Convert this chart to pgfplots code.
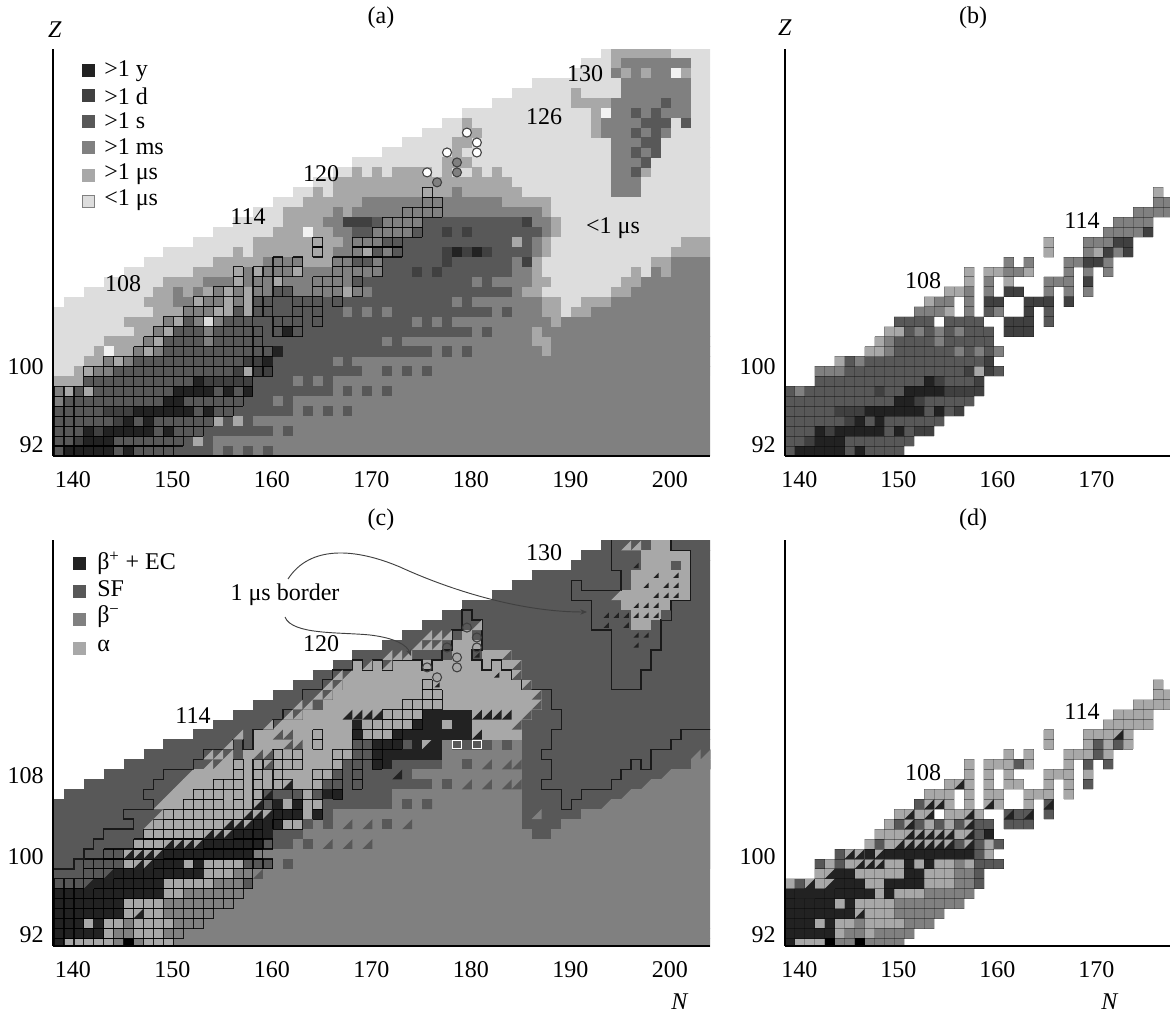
\documentclass[border=0pt]{standalone}
\usepackage{pgfplots}
\usepackage{pgfplotstable}
\pgfplotsset{compat=1.18}
\usepackage{fontspec}
\setmainfont{Liberation Serif}
\usetikzlibrary{arrows.meta}
\definecolor{cB}{gray}{0}
\definecolor{cK}{HTML}{222222}
\definecolor{cD}{HTML}{404040}
\definecolor{cS}{HTML}{585858}
\definecolor{cM}{HTML}{808080}
\definecolor{cU}{HTML}{A8A8A8}
\definecolor{cL}{HTML}{DDDDDD}
\definecolor{cW}{HTML}{F2F2F2}
\pgfdeclareplotmark{lrt}{\pgfpathmoveto{\pgfqpoint{-\pgfplotmarksize}{-\pgfplotmarksize}}\pgfpathlineto{\pgfqpoint{\pgfplotmarksize}{-\pgfplotmarksize}}\pgfpathlineto{\pgfqpoint{\pgfplotmarksize}{\pgfplotmarksize}}\pgfpathclose\pgfusepathqfill}
% r = row (Z-91), a..b = first and last column (N-138) of a run of cells
\pgfplotstableread[row sep=\\]{r a b\\0 0 11\\1 0 12\\2 0 14\\3 0 15\\4 0 17\\5 0 18\\6 0 19\\7 3 19\\8 3 21\\9 5 20\\10 8 21\\11 9 20\\12 10 20\\12 22 24\\13 11 14\\13 16 19\\13 22 24\\13 26 26\\14 13 16\\14 18 18\\14 20 21\\14 24 24\\14 26 26\\15 14 16\\15 18 18\\15 20 21\\15 24 26\\15 28 28\\16 16 18\\16 20 20\\16 22 23\\16 26 26\\16 28 28\\16 30 30\\17 18 18\\17 20 20\\17 22 22\\17 26 28\\17 30 30\\18 18 18\\18 20 24\\18 28 28\\18 30 30\\18 32 32\\19 22 22\\19 24 24\\19 28 32\\20 26 26\\20 30 34\\21 26 26\\21 30 34\\22 32 36\\23 33 36\\24 35 38\\25 37 38\\26 37 37\\}\known
\pgfplotstableread[row sep=\\]{r a b\\8 0 65\\9 0 65\\10 0 65\\11 0 65\\12 0 65\\13 0 65\\14 0 65\\15 1 65\\16 3 65\\17 5 65\\18 7 65\\19 9 65\\20 11 65\\21 14 65\\22 16 65\\23 18 65\\24 20 65\\25 22 65\\26 24 65\\27 26 65\\28 28 65\\29 30 65\\30 33 65\\31 35 65\\32 37 65\\33 39 65\\34 41 65\\35 44 65\\36 46 65\\37 48 65\\38 52 65\\39 53 65\\40 55 65\\}\outerset
% panel a
\pgfplotstableread[row sep=\\]{r a b\\1 14 14\\3 16 16\\3 18 18\\7 0 2\\8 2 3\\9 3 4\\10 4 4\\10 6 8\\11 5 9\\12 8 10\\13 7 11\\14 10 50\\14 52 53\\15 9 50\\15 53 55\\16 10 48\\16 56 57\\17 11 49\\17 57 58\\18 14 48\\18 58 58\\18 61 61\\19 16 48\\19 60 61\\20 18 18\\20 20 49\\20 62 65\\21 20 49\\21 63 65\\22 22 50\\23 23 50\\24 23 49\\25 25 49\\26 26 26\\26 28 46\\27 28 45\\28 30 30\\28 32 32\\28 34 37\\28 39 39\\28 42 42\\28 44 44\\29 39 41\\30 40 40\\31 40 41\\32 41 42\\33 41 41\\13 50 50\\12 48 48\\11 48 49\\10 49 49\\40 56 61\\39 56 56\\36 52 52\\35 52 55\\34 54 54\\33 54 54\\32 54 54\\}\aU
\pgfplotstableread[row sep=\\]{r a b\\0 16 65\\1 16 65\\2 22 65\\3 20 65\\4 24 65\\5 24 65\\5 22 22\\6 28 65\\7 28 65\\7 24 24\\7 26 26\\8 31 65\\9 31 65\\9 28 28\\9 30 30\\10 38 48\\10 50 65\\11 36 47\\11 50 65\\11 33 33\\11 35 35\\12 42 47\\12 49 65\\13 36 36\\13 38 38\\13 40 49\\13 51 65\\14 29 29\\14 31 31\\14 33 33\\14 44 48\\14 54 65\\15 40 40\\15 42 48\\15 56 65\\16 21 21\\16 24 25\\16 27 27\\16 31 31\\16 46 46\\16 58 65\\17 19 19\\17 21 21\\17 23 25\\17 29 29\\17 42 42\\17 44 47\\17 59 65\\18 19 19\\18 25 27\\18 29 29\\18 31 31\\18 46 47\\18 60 60\\18 62 65\\19 21 21\\19 23 23\\19 46 46\\19 62 65\\20 28 29\\21 29 29\\20 48 48\\21 48 48\\22 28 29\\22 49 49\\23 48 49\\24 39 48\\25 31 44\\26 40 40\\15 12 13\\16 12 12\\16 14 14\\17 15 17\\23 27 28\\24 28 28\\24 30 38\\39 57 63\\38 56 56\\38 58 58\\38 60 61\\37 57 63\\36 57 63\\35 56 63\\34 56 63\\33 55 58\\32 55 57\\32 59 59\\32 61 61\\31 56 58\\30 56 57\\30 59 59\\29 56 58\\28 56 57\\27 56 58\\26 56 58\\}\aM
\pgfplotstableread[row sep=\\]{r a b\\38 57 57\\38 59 59\\38 63 63\\28 59 59\\}\aUb
\pgfplotstableread[row sep=\\]{r a b\\0 12 15\\0 17 17\\0 19 19\\0 21 21\\1 13 13\\1 15 15\\2 15 21\\2 23 23\\3 17 17\\3 19 19\\4 18 23\\4 25 25\\4 27 27\\4 29 29\\5 19 21\\5 23 23\\6 20 27\\6 29 29\\6 31 31\\6 33 33\\7 20 23\\7 25 25\\7 27 27\\8 22 30\\8 33 33\\8 35 35\\8 37 37\\9 21 27\\9 29 29\\10 22 37\\10 39 39\\10 41 41\\11 21 32\\11 34 34\\12 21 41\\12 43 43\\13 20 35\\13 37 37\\13 39 39\\14 22 23\\14 25 28\\14 30 30\\14 32 32\\14 34 43\\14 45 45\\15 22 23\\15 27 27\\15 29 39\\15 41 41\\16 32 45\\17 31 41\\17 43 43\\18 33 45\\19 33 45\\20 30 47\\21 31 45\\21 47 47\\22 30 48\\23 29 46\\35 61 61\\34 58 58\\34 60 60\\33 59 61\\33 63 63\\32 58 58\\32 60 60\\31 59 60\\30 58 58\\30 60 60\\29 59 59\\28 58 58\\}\aS
\pgfplotstableread[row sep=\\]{r a b\\18 36 36\\18 38 38\\19 39 39\\19 47 47\\20 39 39\\20 41 41\\20 43 43\\22 39 39\\22 41 41\\23 47 47\\1 2 2\\2 4 4\\3 6 6\\4 5 7\\7 15 19\\8 18 21\\9 19 20\\23 29 31\\}\aD
\pgfplotstableread[row sep=\\]{r a b\\0 1 5\\0 7 7\\1 3 5\\2 3 3\\2 5 9\\2 11 11\\3 7 7\\3 9 9\\4 8 13\\4 15 15\\5 11 12\\6 12 15\\6 17 17\\6 19 19\\7 14 14\\9 21 21\\10 22 22\\12 23 23\\20 40 40\\20 42 42\\}\aK
\pgfplotstableread[row sep=\\]{r a b\\5 0 0\\6 0 0\\8 4 5\\9 5 5\\9 7 7\\10 8 8\\10 10 10\\11 9 9\\11 15 15\\12 10 10\\12 15 15\\13 11 11\\13 14 14\\13 16 16\\14 13 15\\15 15 16\\15 18 18\\16 16 16\\16 18 18\\16 20 20\\16 26 26\\16 28 28\\16 30 30\\17 20 20\\17 26 28\\18 21 23\\18 28 28\\18 30 30\\18 32 32\\19 22 22\\19 24 24\\19 28 29\\19 32 32\\20 30 30\\20 33 33\\21 30 32\\22 32 35\\23 33 36\\24 35 38\\25 37 38\\}\aGM
\pgfplotstableread[row sep=\\]{r a b\\6 1 1\\6 3 3\\8 3 3\\8 19 19\\9 6 6\\10 9 9\\11 10 10\\12 11 11\\13 12 12\\14 16 16\\15 14 14\\16 17 17\\17 18 18\\17 22 22\\18 18 18\\18 20 20\\18 24 24\\20 26 26\\20 31 31\\21 26 26\\26 37 37\\}\aGU
\pgfplotstableread[row sep=\\]{r a b\\10 5 5\\22 25 25\\34 55 55\\38 62 62\\}\aW
% panel b
\pgfplotstableread[row sep=\\]{r a b\\0 1 5\\0 7 7\\1 3 5\\2 3 3\\2 5 9\\2 11 11\\3 7 7\\3 9 9\\4 8 13\\4 15 15\\5 11 12\\6 12 15\\7 14 14\\}\bK
\pgfplotstableread[row sep=\\]{r a b\\1 2 2\\2 4 4\\2 13 14\\3 6 6\\4 5 7\\4 17 17\\5 13 13\\6 9 9\\6 16 19\\7 15 15\\7 19 19\\8 18 18\\8 20 20\\9 20 20\\12 22 24\\13 22 24\\14 24 24\\15 20 21\\15 24 26\\15 28 28\\16 22 23\\17 30 30\\19 30 31\\20 32 32\\20 34 34\\21 33 34\\22 36 36\\}\bD
\pgfplotstableread[row sep=\\]{r a b\\6 1 1\\8 3 5\\9 7 7\\10 10 10\\10 17 17\\10 19 19\\10 21 21\\11 10 10\\11 15 15\\12 13 13\\12 15 15\\12 17 17\\14 13 15\\14 18 18\\14 21 21\\15 15 16\\15 18 18\\16 18 18\\16 20 20\\16 26 26\\16 28 28\\16 30 30\\17 20 20\\17 26 28\\18 22 23\\18 28 28\\18 30 30\\18 32 32\\19 22 22\\19 24 24\\19 28 29\\19 32 32\\20 30 30\\20 33 33\\21 30 32\\22 32 35\\23 33 36\\24 35 38\\25 37 38\\}\bM
\pgfplotstableread[row sep=\\]{r a b\\8 19 19\\9 5 5\\10 8 9\\11 9 9\\12 10 11\\14 16 16\\15 14 14\\16 16 17\\17 18 18\\17 22 22\\18 18 18\\18 20 21\\18 24 24\\20 26 26\\20 31 31\\21 26 26\\26 37 37\\}\bU
% panel c
\pgfplotstableread[row sep=\\]{r a b\\7 0 2\\}\cSl
\pgfplotstableread[row sep=\\]{r a b\\0 6 6\\0 8 8\\0 12 65\\1 6 7\\1 11 65\\2 7 7\\2 12 65\\3 11 65\\4 11 65\\5 13 65\\6 16 18\\6 20 65\\7 18 65\\8 22 65\\9 20 65\\10 22 65\\11 25 47\\11 50 65\\12 26 46\\12 51 65\\13 28 46\\13 53 65\\14 34 46\\14 56 65\\15 34 46\\15 58 65\\16 38 46\\16 60 65\\17 36 46\\17 62 65\\18 39 46\\18 64 65\\19 39 46\\20 39 46\\}\cMr
\pgfplotstableread[row sep=\\]{r a b\\10 25 25\\10 22 23\\8 23 23\\12 27 27\\13 27 27\\12 33 33\\14 35 35\\14 37 37\\16 39 39\\18 41 41\\20 35 35\\20 40 43\\20 45 45\\}\cSc
\pgfplotstableread[row sep=\\]{r a b\\0 1 5\\0 9 11\\1 5 5\\1 8 10\\2 3 3\\2 5 6\\2 8 11\\3 7 10\\4 7 10\\5 11 12\\6 11 15\\7 15 17\\8 7 9\\8 13 13\\8 15 18\\9 7 10\\10 8 14\\10 13 17\\11 9 18\\12 10 19\\12 21 24\\13 11 21\\13 25 25\\14 11 20\\14 23 23\\14 25 26\\15 12 20\\15 25 25\\16 13 26\\17 14 27\\18 17 28\\19 19 29\\20 20 29\\20 37 37\\21 20 29\\21 31 33\\21 42 46\\22 23 29\\22 31 35\\22 39 39\\22 42 46\\23 25 47\\24 27 48\\25 28 48\\26 29 47\\27 30 46\\28 30 30\\28 32 32\\28 34 46\\29 40 41\\29 43 45\\30 40 42\\31 41 41\\40 60 61\\39 59 63\\38 59 61\\38 63 63\\37 58 63\\36 58 63\\35 57 63\\34 57 61\\33 58 60\\32 58 59\\}\cUr
\pgfplotstableread[row sep=\\]{r a b\\0 0 0\\1 0 4\\2 0 2\\2 4 4\\3 0 6\\4 0 6\\5 0 10\\6 4 10\\7 6 14\\8 10 12\\8 14 14\\9 11 19\\10 15 20\\11 18 21\\12 20 22\\13 22 24\\13 26 26\\14 22 22\\14 24 24\\15 27 28\\18 32 33\\19 32 38\\20 32 34\\20 36 36\\20 38 38\\21 30 30\\21 34 41\\22 30 30\\22 36 38\\22 40 41\\23 37 41\\}\cKr
\pgfplotstableread[row sep=\\]{r a b\\0 7 7\\}\cBl
\pgfplotstableread[row sep=\\]{r a\\23 29\\23 30\\23 31\\23 32\\23 42\\23 43\\23 44\\23 45\\21 42\\20 37\\8 8\\8 9\\9 7\\9 8\\9 9\\9 10\\10 11\\10 12\\10 13\\10 14\\11 15\\11 16\\11 17\\12 17\\12 18\\12 19\\13 19\\13 20\\13 21\\14 20\\15 21\\16 23\\17 34\\7 5\\6 3\\3 8\\}\cTK
\pgfplotstableread[row sep=\\]{r a\\27 28\\27 29\\28 31\\28 33\\26 27\\26 28\\25 26\\25 27\\24 24\\24 25\\23 23\\23 24\\22 21\\22 22\\21 18\\20 17\\19 15\\19 16\\19 17\\18 15\\18 16\\17 13\\16 12\\29 33\\29 34\\29 35\\30 36\\30 37\\30 38\\31 37\\31 38\\31 39\\32 42\\35 56\\40 57\\40 58\\15 11\\14 10\\13 10\\12 9\\}\cTU
\pgfplotstableread[row sep=\\]{r a\\29 45\\28 46\\27 46\\26 47\\25 48\\24 48\\23 47\\22 46\\16 41\\16 43\\16 45\\16 46\\18 43\\18 45\\18 46\\14 37\\12 35\\12 29\\12 31\\10 27\\10 29\\10 31\\7 20\\20 42\\33 61\\21 22\\21 23\\20 23\\20 24\\19 20\\19 21\\18 21\\}\cTS
\pgfplotstableread[row sep=\\]{r a\\14 46\\13 46\\13 48\\19 64\\19 65\\18 65\\17 61\\16 59\\15 57\\14 55\\}\cTM
\pgfplotstableread[row sep=\\]{r a\\38 58\\37 60\\37 62\\36 59\\36 61\\36 62\\35 60\\35 61\\35 62\\34 58\\34 59\\34 60\\33 58\\33 59\\33 60\\32 55\\32 57\\31 58\\31 59\\30 58\\33 55\\33 56\\33 57\\27 44\\29 42\\26 38\\}\cTs
\pgfplotstableread[row sep=\\]{r a\\20 40\\20 42\\}\cWb
\pgfplotstableread[row sep=\\]{r a\\32 41\\31 42\\30 42\\30 39\\28 37\\}\circW
\pgfplotstableread[row sep=\\]{r a\\29 40\\28 40\\27 38\\}\circG
% panel d
\pgfplotstableread[row sep=\\]{r a b\\0 5 6\\0 8 11\\1 6 7\\1 9 12\\2 7 7\\2 12 14\\3 11 15\\4 11 17\\5 14 18\\6 17 18\\7 17 18\\8 17 17\\}\dM
\pgfplotstableread[row sep=\\]{r a b\\6 1 1\\6 19 19\\7 19 19\\8 3 3\\8 5 5\\8 19 21\\9 5 5\\9 19 19\\10 9 9\\10 17 17\\10 19 19\\10 21 21\\11 19 19\\12 11 11\\12 13 13\\12 15 15\\12 17 17\\12 19 20\\12 22 24\\13 22 24\\13 26 26\\14 13 13\\14 26 26\\16 30 30\\18 23 23\\18 30 30\\18 32 32\\19 31 31\\20 31 31\\20 33 33\\}\dS
\pgfplotstableread[row sep=\\]{r a b\\0 0 0\\1 0 4\\2 0 2\\2 4 4\\3 0 6\\4 0 4\\4 6 6\\5 0 8\\5 10 10\\6 5 7\\6 10 13\\7 5 6\\7 12 13\\8 12 12\\8 14 14\\9 8 8\\9 10 18\\11 20 20\\}\dK
\pgfplotstableread[row sep=\\]{r a b\\0 4 4\\0 7 7\\}\dB
\pgfplotstableread[row sep=\\]{r a\\5 1\\5 2\\6 2\\6 4\\7 4\\8 7\\8 8\\8 9\\9 6\\9 7\\9 9\\10 11\\10 12\\10 13\\10 14\\10 15\\10 16\\10 18\\11 12\\11 13\\11 14\\11 15\\11 16\\11 18\\12 12\\12 18\\13 12\\13 14\\13 18\\14 14\\14 15\\16 17\\14 20\\14 26\\21 33\\13 22\\13 24\\3 7\\}\dT
% the 1 microsecond border
\pgfplotstableread[row sep=\\]{k e\\-1 8\\2 8\\2 9\\3 9\\3 10\\4 10\\4 11\\5 11\\5 12\\8 12\\8 13\\7 13\\7 14\\10 14\\10 15\\9 15\\9 16\\10 16\\10 17\\11 17\\11 18\\14 18\\14 19\\15 19\\15 20\\18 20\\18 21\\19 21\\19 20\\20 20\\20 22\\22 22\\22 23\\23 23\\23 24\\25 24\\25 26\\27 26\\27 27\\28 27\\28 28\\30 28\\30 29\\31 29\\31 28\\32 28\\32 29\\33 29\\33 28\\34 28\\34 29\\37 29\\37 28\\38 28\\38 29\\39 29\\39 30\\40 30\\40 32\\41 32\\41 34\\42 34\\42 33\\43 33\\43 30\\42 30\\42 29\\43 29\\43 28\\44 28\\44 29\\45 29\\45 28\\46 28\\46 27\\47 27\\47 26\\50 26\\50 24\\51 24\\51 22\\50 22\\50 20\\49 20\\49 19\\50 19\\50 17\\49 17\\49 16\\51 16\\51 14\\52 14\\52 15\\53 15\\53 16\\56 16\\56 17\\57 17\\57 18\\58 18\\58 19\\59 19\\59 18\\60 18\\60 20\\62 20\\62 21\\63 21\\63 22\\67 22\\}\bordA
\pgfplotstableread[row sep=\\]{k e\\56 42\\56 38\\57 38\\57 36\\53 36\\53 37\\52 37\\52 35\\54 35\\54 32\\56 32\\56 26\\59 26\\59 28\\60 28\\60 30\\61 30\\61 33\\62 33\\62 35\\64 35\\64 40\\62 40\\62 42\\}\bordB
\newcommand\cellpt{7.4625pt}
\newcommand\runs[2]{\addplot[draw=none,mark=none,forget plot,error bars/x dir=plus,error bars/x explicit,error bars/error mark=none,error bars/error bar style={line width=7.62pt,color=#1,solid}] table[x=a,y expr=\thisrow{r}+0.5,x error expr=\thisrow{b}-\thisrow{a}+1] {#2};}
\newcommand\tris[3]{\addplot[only marks,forget plot,mark=lrt,mark size=#2,mark options={fill=#1,draw=none}] table[x expr=\thisrow{a}+0.5,y expr=\thisrow{r}+0.5] {#3};}
\newcommand\cellgrid[2]{%
\addplot[draw=none,mark=none,forget plot,error bars/x dir=plus,error bars/x explicit,error bars/error mark=none,error bars/error bar style={line width=#2,color=black,opacity=#1,solid}] table[x=a,y expr=\thisrow{r},x error expr=\thisrow{b}-\thisrow{a}+1] {\known};
\addplot[draw=none,mark=none,forget plot,error bars/x dir=plus,error bars/x explicit,error bars/error mark=none,error bars/error bar style={line width=#2,color=black,opacity=#1,solid}] table[x=a,y expr=\thisrow{r}+1,x error expr=\thisrow{b}-\thisrow{a}+1] {\known};
\addplot[draw=none,mark=none,forget plot,error bars/x dir=plus,error bars/x explicit,error bars/error mark=none,error bars/error bar style={line width=\cellpt,color=black,opacity=#1,dash pattern=on #2 off \dimexpr7.4625pt-#2\relax}] table[x expr=\thisrow{a}-0.05,y expr=\thisrow{r}+0.5,x error expr=\thisrow{b}-\thisrow{a}+1.1] {\known};}
\newcommand\fs{\fontsize{18}{18}\selectfont}
\newcommand\lab[3]{\node[font=\fs,inner sep=0pt,anchor=center] at (#1,#2) {#3};}
\newcommand\legtxt[3]{\node[font=\fs,inner sep=0pt,anchor=west] at (#1,#2) {#3};}
\newcommand\legsq[3]{\fill[#1] ({#2-6.5},{#3-6.5}) rectangle ({#2+6.5},{#3+6.5});}
\pgfplotsset{panel/.style={scale only axis,axis on top,anchor=south west,axis lines*=left,axis line style={line width=1.5pt,-},major tick length=0pt,tick style={draw=none},enlargelimits=false,xticklabel style={font=\fs,yshift=-8pt},yticklabel style={font=\fs,xshift=-3.5pt},clip=true}}
\begin{document}
\begin{tikzpicture}
\path[use as bounding box] (0,0) rectangle (877.5pt,761.25pt);
% ---------- (a)
\begin{axis}[panel,at={(39.75pt,419.25pt)},width=492.75pt,height=304.875pt,xmin=-0.1,xmax=65.93,ymin=0,ymax=40.85,xtick={1.9,11.9,21.9,31.9,41.9,51.9,61.9},xticklabels={140,150,160,170,180,190,200},ytick={1.1,8.95},yticklabels={92,100}]
\runs{cL}{\outerset}
\runs{cU}{\aU}
\runs{cM}{\aM}
\runs{cU}{\aUb}
\runs{cS}{\known}
\runs{cS}{\aS}
\runs{cD}{\aD}
\runs{cM}{\aGM}
\runs{cU}{\aGU}
\runs{cK}{\aK}
\runs{cW}{\aW}
\cellgrid{0.85}{0.85pt}
\addplot[only marks,forget plot,mark=*,mark size=3.4pt,mark options={fill=white,draw=cD,line width=0.8pt}] table[x expr=\thisrow{a}+0.5,y expr=\thisrow{r}+0.5] {\circW};
\addplot[only marks,forget plot,mark=*,mark size=3.4pt,mark options={fill=cM,draw=cD,line width=0.8pt}] table[x expr=\thisrow{a}+0.5,y expr=\thisrow{r}+0.5] {\circG};
\end{axis}
% ---------- (b)
\begin{axis}[panel,at={(588.75pt,419.25pt)},width=288.75pt,height=304.875pt,xmin=0,xmax=38.7,ymin=0,ymax=40.85,xtick={1.45,11.4,21.35,31.3},xticklabels={140,150,160,170},ytick={1.1,8.95},yticklabels={92,100}]
\runs{cS}{\known}
\runs{cD}{\bD}
\runs{cM}{\bM}
\runs{cU}{\bU}
\runs{cK}{\bK}
\cellgrid{0.22}{0.6pt}
\end{axis}
% ---------- (c)
\begin{axis}[panel,at={(39.75pt,51.75pt)},width=492.75pt,height=304.5pt,xmin=-0.1,xmax=65.93,ymin=0.25,ymax=41.05,xtick={1.9,11.9,21.9,31.9,41.9,51.9,61.9},xticklabels={140,150,160,170,180,190,200},ytick={1.35,9.2,17.4},yticklabels={92,100,108}]
\runs{cS}{\outerset}
\runs{cS}{\cSl}
\runs{cS}{\known}
\runs{cM}{\cMr}
\runs{cS}{\cSc}
\runs{cU}{\cUr}
\runs{cK}{\cKr}
\runs{cB}{\cBl}
\tris{cK}{3.73pt}{\cTK}
\tris{cU}{3.73pt}{\cTU}
\tris{cS}{3.73pt}{\cTS}
\tris{cM}{3.73pt}{\cTM}
\tris{cK}{2pt}{\cTs}
\cellgrid{0.85}{0.85pt}
\addplot[only marks,forget plot,mark=square,mark size=3.3pt,mark options={draw=white,line width=0.8pt}] table[x expr=\thisrow{a}+0.5,y expr=\thisrow{r}+0.5] {\cWb};
\addplot[forget plot,black!90,line width=1pt,mark=none] table[x=k,y=e] {\bordA};
\addplot[forget plot,black!90,line width=1pt,mark=none] table[x=k,y=e] {\bordB};
\addplot[only marks,forget plot,mark=o,mark size=3.4pt,mark options={draw=cD,line width=0.8pt}] table[x expr=\thisrow{a}+0.5,y expr=\thisrow{r}+0.25] {\circW};
\addplot[only marks,forget plot,mark=o,mark size=3.4pt,mark options={draw=cD,line width=0.8pt}] table[x expr=\thisrow{a}+0.5,y expr=\thisrow{r}+0.25] {\circG};
\end{axis}
% ---------- (d)
\begin{axis}[panel,at={(588.75pt,51.75pt)},width=288.75pt,height=304.5pt,xmin=0,xmax=38.7,ymin=0.25,ymax=41.05,xtick={1.45,11.4,21.35,31.3},xticklabels={140,150,160,170},ytick={1.35,9.2},yticklabels={92,100}]
\runs{cU}{\known}
\runs{cM}{\dM}
\runs{cS}{\dS}
\runs{cK}{\dK}
\runs{cB}{\dB}
\tris{cK}{3.73pt}{\dT}
\cellgrid{0.22}{0.6pt}
\end{axis}
% ---------- annotations, in reference pixels (y downwards)
\begin{scope}[x=0.75pt,y=-0.75pt,yshift=761.25pt]
\lab{381}{18}{(a)}\lab{973}{18}{(b)}\lab{381}{520}{(c)}\lab{973}{520}{(d)}
\lab{55}{30}{\textit{Z}}\lab{785}{28}{\textit{Z}}\lab{680}{1002}{\textit{N}}\lab{1110}{1002}{\textit{N}}
\lab{123}{284}{108}\lab{248}{217}{114}\lab{321}{174}{120}\lab{544}{117}{126}\lab{585}{74}{130}\lab{613}{228}{<1 μs}
\lab{923}{281}{108}\lab{1082}{221}{114}
\lab{285}{595}{1 μs border}\lab{321}{644}{120}\lab{193}{716}{114}\lab{544}{553}{130}
\lab{923}{773}{108}\lab{1082}{712}{114}
\legsq{cK}{88}{71}\legsq{cD}{88}{96}\legsq{cS}{88}{122}\legsq{cM}{88}{148}\legsq{cU}{88}{176}
\fill[cL,draw=cM,line width=0.75pt] (82,196) rectangle (94,208);
\legtxt{104}{71}{>1 y}\legtxt{104}{96}{>1 d}\legtxt{104}{121}{>1 s}\legtxt{104}{147}{>1 ms}\legtxt{104}{174}{>1 μs}\legtxt{104}{200}{<1 μs}
\legsq{cK}{79}{563}\legsq{cS}{79}{591}\legsq{cM}{79}{619}\legsq{cU}{79}{648}
\legtxt{97}{563}{β\textsuperscript{+} + EC}\legtxt{97}{589}{SF}\legtxt{97}{617}{β\textsuperscript{−}}\legtxt{97}{646}{α}
\draw[cD,line width=0.7pt,-{Stealth[length=5pt,width=4pt]}] (288,579) .. controls (310,545) and (355,548) .. (400,567) .. controls (450,590) and (520,612) .. (587,612);
\draw[cD,line width=0.7pt,-{Stealth[length=5pt,width=4pt]}] (285,617) .. controls (292,635) and (340,632) .. (370,635) .. controls (395,638) and (407,645) .. (411,656);
\end{scope}
\end{tikzpicture}
\end{document}
